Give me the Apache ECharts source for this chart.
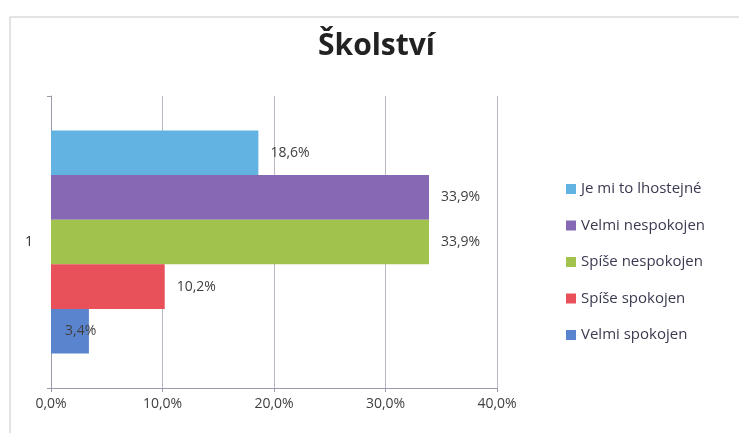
<!DOCTYPE html>
<html>
<head>
<meta charset="utf-8">
<script src="https://cdn.jsdelivr.net/npm/echarts@6/dist/echarts.min.js"></script>
<style>
  html, body { margin: 0; padding: 0; background: #fff; }
  #main { width: 739px; height: 433px; }
</style>
</head>
<body>
<div id="main"></div>
<script>
// data (top bar first)
const categories = ['1'];
const seriesNames = ['Je mi to lhostejné', 'Velmi nespokojen', 'Spíše nespokojen', 'Spíše spokojen', 'Velmi spokojen'];
const seriesValues = [18.6, 33.9, 33.9, 10.2, 3.4];
const seriesColors = ['#62b2e2', '#8668b4', '#a1c24c', '#e8505a', '#5b84cf'];
const tickValues = [0, 10, 20, 30, 40];

const font = '"Open Sans", "Noto Sans", sans-serif';
const fmt = v => v.toFixed(1).replace('.', ',') + '%';

const chart = echarts.init(document.getElementById('main'));

const series = seriesNames.map((name, i) => ({
  name: name,
  type: 'bar',
  data: [seriesValues[i]],
  barWidth: 44.6,
  barGap: '0%',
  itemStyle: { color: seriesColors[i] },
  label: Object.assign({
    show: true,
    formatter: p => fmt(p.value),
    color: '#404040',
    fontFamily: font,
    fontSize: 14
  }, name === 'Velmi spokojen' ? { position: 'insideLeft', distance: 14 } : { position: 'right', distance: 12 })
}));

chart.setOption({
  animation: false,
  backgroundColor: '#fff',
  title: {
    text: 'Školství',
    left: 313,
    top: 26,
    textStyle: { fontFamily: font, fontSize: 30, fontWeight: 'bold', color: '#222' }
  },
  graphic: [{
    type: 'polyline',
    shape: { points: [[10, 440], [10, 17], [739, 17]] },
    style: { stroke: '#c8c8c8', lineWidth: 1, fill: null }
  }],
  legend: {
    orient: 'vertical',
    left: 561,
    top: 176,
    itemWidth: 10,
    itemHeight: 10,
    itemGap: 20.5,
    icon: 'rect',
    data: seriesNames,
    textStyle: { fontFamily: font, fontSize: 15, color: '#3a3a50', lineHeight: 16 }
  },
  grid: { left: 51, right: 242, top: 96, bottom: 45 },
  xAxis: {
    type: 'value',
    min: tickValues[0],
    max: tickValues[tickValues.length - 1],
    interval: 10,
    axisLine: { show: true, lineStyle: { color: '#9a9aa8' } },
    axisTick: { show: true, length: 4, lineStyle: { color: '#9a9aa8' } },
    splitLine: { show: true, lineStyle: { color: '#b8b8c8' } },
    axisLabel: { formatter: v => fmt(v), fontFamily: font, fontSize: 14, color: '#404040', margin: 9 }
  },
  yAxis: {
    type: 'category',
    data: categories,
    axisLine: { show: true, lineStyle: { color: '#9a9aa8' } },
    axisTick: { show: true, length: 4, lineStyle: { color: '#9a9aa8' } },
    axisLabel: { fontFamily: font, fontSize: 14, color: '#303030', margin: 18 }
  },
  series: series
});
</script>
</body>
</html>
